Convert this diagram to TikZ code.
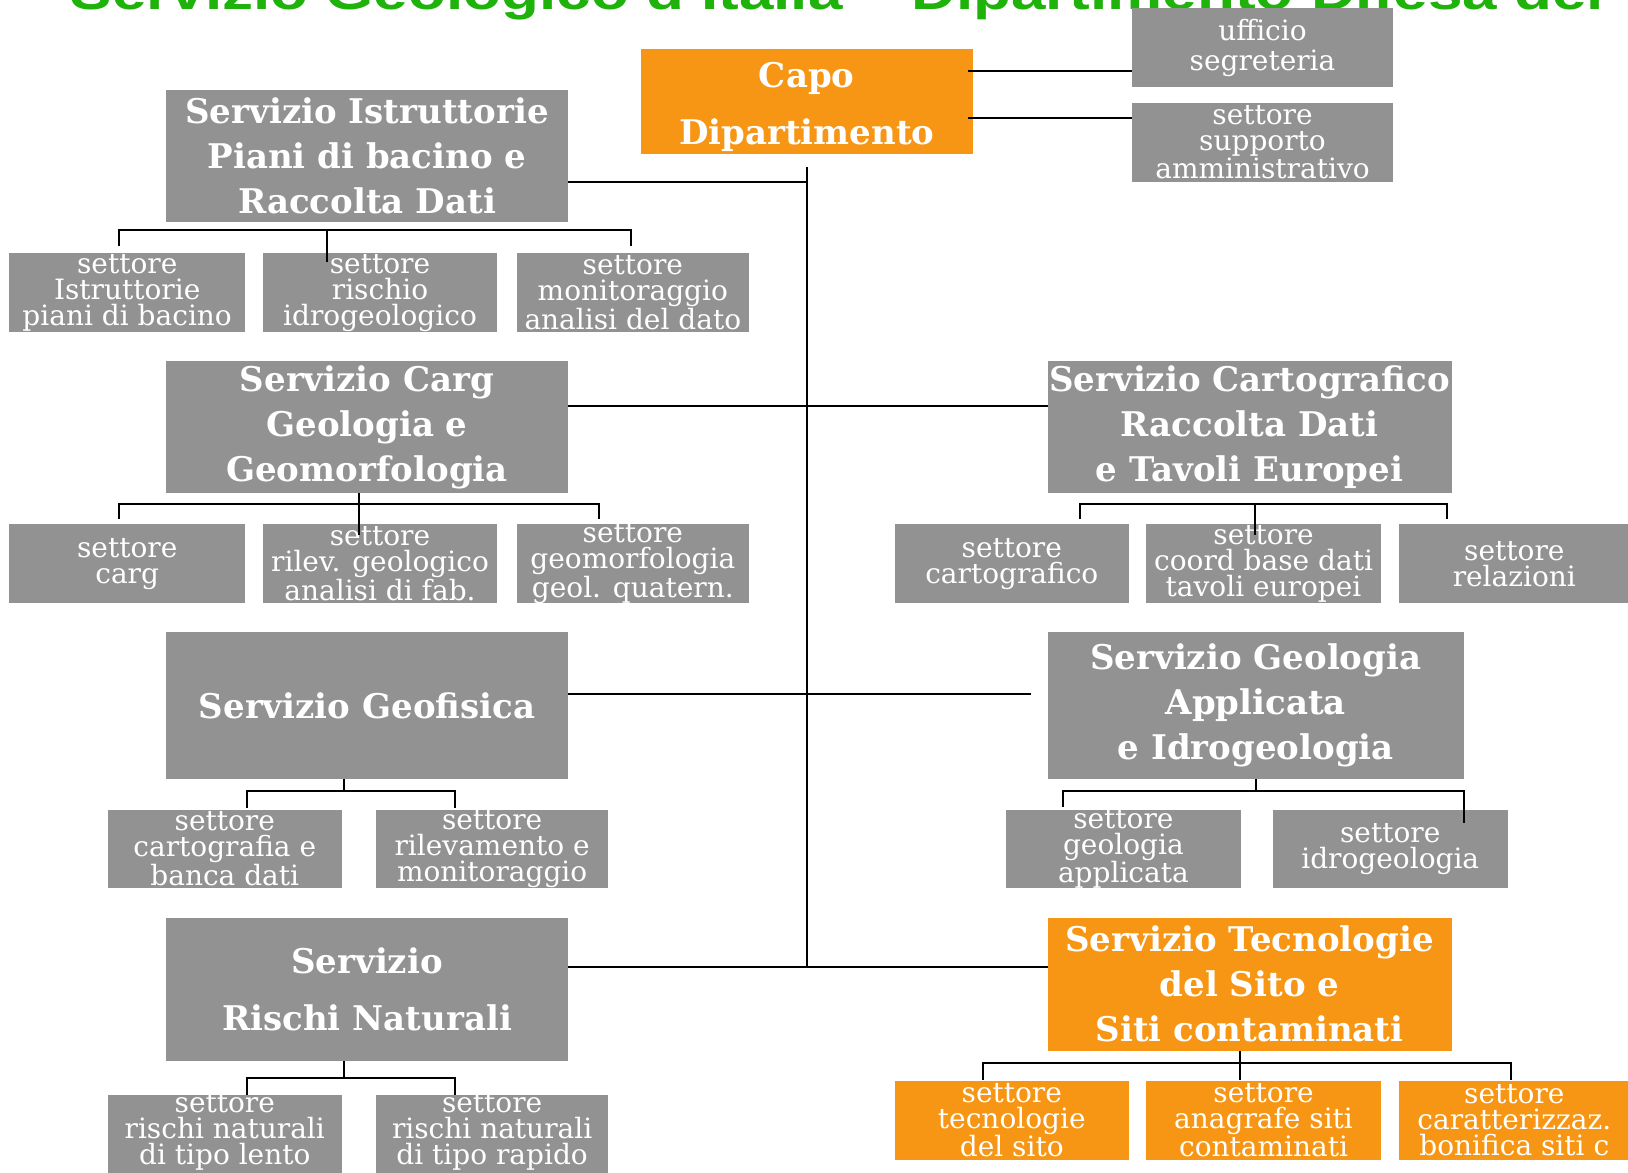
\documentclass[tikz,border=0pt]{standalone}
\usepackage{fontspec}
\setmainfont{DejaVu Serif}
\newfontfamily\titlefont[FakeStretch=1.24]{Liberation Sans}
\usetikzlibrary{calc}
\definecolor{boxgrey}{RGB}{146,146,146}
\definecolor{boxorange}{RGB}{247,150,20}
\definecolor{titlegreen}{RGB}{30,178,10}
\begin{document}
\begin{tikzpicture}[x=1.0383pt,y=-1.0383pt,
  corners/.style n args={4}{at={({(#1+#3)/2},{(#2+#4)/2})},
     minimum width={(#3-#1)*1.0383pt}, minimum height={(#4-#2)*1.0383pt}},
  box/.style={rectangle, inner xsep=-60pt, inner ysep=-40pt, outer sep=0pt,
     text=white, align=center, draw=none},
  gbox/.style={box, fill=boxgrey},
  obox/.style={box, fill=boxorange},
  bigtxt/.style={font=\fontsize{34}{45}\selectfont\bfseries},
  widetxt/.style={font=\fontsize{34}{57}\selectfont\bfseries},
  smalltxt/.style={font=\fontsize{28}{26}\selectfont},
  link/.style={line width=2pt, black}]
\useasboundingbox (0,0) rectangle (1568,1129);
\fill[white] (0,0) rectangle (1568,1129);
\clip (0,0) rectangle (1568,1129);

\node[anchor=base west, inner sep=0pt, text=titlegreen,
  font=\titlefont\bfseries\fontsize{50}{50}\selectfont] (title) at (68,9)
  {Servizio Geologico d’Italia – Dipartimento Difesa del};

% top level
\node[obox, widetxt, corners={617}{47}{937}{148}] (capo) {\rule{0pt}{36pt}Capo\\Dipartimento};
\node[gbox, font=\fontsize{28}{30}\selectfont, corners={1090}{8}{1342}{84}] (uff) {ufficio\\segreteria};
\node[gbox, smalltxt, corners={1090}{99}{1342}{175}] (supp) {settore\\supporto\\amministrativo};

% Servizi
\node[gbox, bigtxt, corners={160}{87}{547}{214}] (istr) {Servizio Istruttorie\\Piani di bacino e\\Raccolta Dati};
\node[gbox, bigtxt, corners={160}{348}{547}{475}] (carg) {Servizio Carg\\Geologia e\\Geomorfologia};
\node[gbox, bigtxt, corners={1009}{348}{1398}{475}] (carto) {Servizio Cartografico\\Raccolta Dati\\e Tavoli Europei};
\node[gbox, bigtxt, corners={160}{609}{547}{750}] (geof) {Servizio Geofisica};
\node[gbox, bigtxt, corners={1009}{609}{1410}{750}] (geoapp) {Servizio Geologia\\Applicata\\e Idrogeologia};
\node[gbox, widetxt, corners={160}{884}{547}{1022}] (rischi) {Servizio\\Rischi Naturali};
\node[obox, bigtxt, corners={1009}{884}{1398}{1012}] (tecno) {Servizio Tecnologie\\del Sito e\\Siti contaminati};

% settori
\node[gbox, smalltxt, corners={9}{244}{236}{320}] (ista) {settore\\Istruttorie\\piani di bacino};
\node[gbox, smalltxt, corners={253}{244}{479}{320}] (rii) {settore\\rischio\\idrogeologico};
\node[gbox, smalltxt, corners={498}{244}{721}{320}] (mon) {settore\\monitoraggio\\analisi del dato};
\node[gbox, smalltxt, corners={9}{505}{236}{581}] (cg) {settore\\carg};
\node[gbox, smalltxt, corners={253}{505}{479}{581}] (ril) {settore\\rilev. geologico\\analisi di fab.};
\node[gbox, smalltxt, corners={498}{505}{721}{581}] (geom) {settore\\geomorfologia\\geol. quatern.};
\node[gbox, smalltxt, corners={862}{505}{1087}{581}] (cc) {settore\\cartografico};
\node[gbox, smalltxt, corners={1104}{505}{1330}{581}] (cbd) {settore\\coord base dati\\tavoli europei};
\node[gbox, smalltxt, corners={1347}{505}{1570}{581}] (rel) {settore\\relazioni};
\node[gbox, smalltxt, corners={104}{780}{329}{855}] (cb) {settore\\cartografia e\\banca dati};
\node[gbox, smalltxt, corners={362}{780}{586}{855}] (rm) {settore\\rilevamento e\\monitoraggio};
\node[gbox, smalltxt, corners={969}{780}{1195}{855}] (ga) {settore\\geologia\\applicata};
\node[gbox, smalltxt, corners={1226}{780}{1452}{855}] (idro) {settore\\idrogeologia};
\node[gbox, smalltxt, corners={104}{1055}{329}{1135}] (rl) {settore\\rischi naturali\\di tipo lento\rule[-15pt]{0pt}{15pt}};
\node[gbox, smalltxt, corners={362}{1055}{586}{1135}] (rr) {settore\\rischi naturali\\di tipo rapido\rule[-15pt]{0pt}{15pt}};
\node[obox, smalltxt, corners={862}{1041}{1087}{1117}] (tec) {settore\\tecnologie\\del sito};
\node[obox, smalltxt, corners={1104}{1041}{1330}{1117}] (ana) {settore\\anagrafe siti\\contaminati};
\node[obox, smalltxt, corners={1347}{1041}{1570}{1117}] (car) {settore\\caratterizzaz.\\bonifica siti c};

% Capo links
\coordinate (K1) at ($(capo.east)+(-5,-29.5)$);
\coordinate (K2) at ($(capo.east)+(-5,16.5)$);
\draw[link] (K1) -- (K1 -| uff.west);
\draw[link] (K2) -- (K2 -| supp.west);

% trunk and main branches
\coordinate (L1) at ($(istr.east)+(0,24.5)$);
\coordinate (L2) at ($(carg.east)+(0,-20.5)$);
\coordinate (L3) at ($(geof.east)+(0,-11.5)$);
\coordinate (L4) at ($(rischi.east)+(0,-22)$);
\coordinate (T0) at ($(capo.south)+(0,13)$);
\draw[link] (T0) -- (T0 |- L4);
\draw[link] (L1) -- (L1 -| capo.south);
\draw[link] (L2) -- (L2 -| carto.west);
\draw[link, shorten >=16.6pt] (L3) -- (L3 -| geoapp.west);
\draw[link] (L4) -- (L4 -| tecno.west);

% family A
\coordinate (Ab) at ($(istr.south)+(0,8)$);
\coordinate (Am) at ($(rii.north)+(-51,8)$);
\draw[link] ($(ista.north)+(-7.5,-7)$) |- (Ab) -| ($(mon.north)+(-1.5,-7)$);
\draw[link] (Am |- Ab) -- (Am);

% family B
\coordinate (Bb) at ($(carg.south)+(-7.5,10)$);
\coordinate (Bm) at ($(ril.north)+(-20,10)$);
\draw[link] ($(cg.north)+(-7.5,-5)$) |- (Bb) -| ($(geom.north)+(-32.5,-5)$);
\draw[link] (carg.south -| Bb) -- (Bm -| Bb);

% family C
\coordinate (Cb) at ($(carto.south)+(5.5,10)$);
\draw[link] ($(cc.north)+(65.5,-5)$) |- (Cb) -| ($(rel.north)+(-64.5,-5)$);
\draw[link] (Cb) -- ($(cbd.north)+(-8,10)$);

% family D
\coordinate (Db) at ($(geof.south)+(-22.5,12)$);
\draw[link] (geof.south -| Db) -- (Db);
\draw[link] ($(cb.north)+(21.5,-2)$) |- (Db) -| ($(rm.north)+(-36,-2)$);

% family E
\coordinate (Eb) at ($(geoapp.south)+(0,12)$);
\draw[link] (geoapp.south) -- (Eb);
\draw[link] ($(ga.north)+(-58,-3)$) |- (Eb) -| ($(idro.north)+(71,13)$);

% family F
\coordinate (Fb) at ($(rischi.south)+(-22.5,16)$);
\draw[link] (rischi.south -| Fb) -- (Fb);
\draw[link] ($(rl.north)+(21.5,0)$) |- (Fb) -| ($(rr.north)+(-36,0)$);

% family G
\coordinate (Gb) at ($(tecno.south)+(-9.5,12)$);
\draw[link] (tecno.south -| Gb) -- ($(ana.north)+(-23,-1)$);
\draw[link] ($(tec.north)+(-27.5,-1)$) |- (Gb) -| ($(car.north)+(-3.5,-1)$);
\end{tikzpicture}
\end{document}
